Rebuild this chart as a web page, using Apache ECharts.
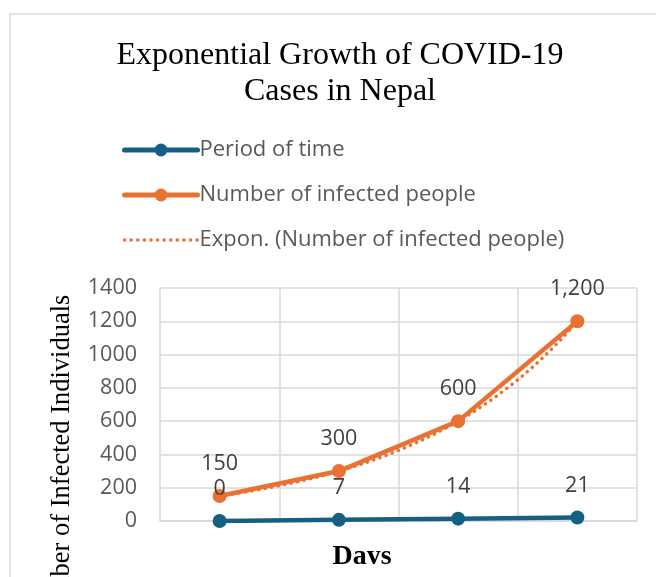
<!DOCTYPE html>
<html>
<head>
<meta charset="utf-8">
<script src="https://cdn.jsdelivr.net/npm/echarts@6/dist/echarts.min.js"></script>
<style>
  html, body { margin: 0; padding: 0; background: #fff; }
  #chart { width: 656px; height: 577px; }
</style>
</head>
<body>
<div id="chart"></div>
<script>
// Weekly snapshots: day count and cumulative infections
const categories = ['1', '2', '3', '4'];
const periodOfTime = [0, 7, 14, 21];
const infectedPeople = [150, 300, 600, 1200];
const yTicks = [0, 200, 400, 600, 800, 1000, 1200, 1400];

// Least-squares exponential fit y = a * e^(b x) over category positions 1..n
function expFit(ys) {
  const n = ys.length;
  let sx = 0, sy = 0, sxx = 0, sxy = 0;
  ys.forEach((v, i) => {
    const x = i + 1, ly = Math.log(v);
    sx += x; sy += ly; sxx += x * x; sxy += x * ly;
  });
  const b = (n * sxy - sx * sy) / (n * sxx - sx * sx);
  const a = Math.exp((sy - b * sx) / n);
  return { a, b };
}
const fit = expFit(infectedPeople);
const trend = [];
for (let x = 1; x <= infectedPeople.length + 1e-9; x += 0.05) {
  trend.push([x, fit.a * Math.exp(fit.b * x)]);
}

const ORANGE = '#E97132';
const BLUE = '#156082';
const SANS = '"Open Sans", "Liberation Sans", sans-serif';
const SERIF = '"Liberation Serif", "DejaVu Serif", serif';
const DOTS = [0.1, 6.5];

const chart = echarts.init(document.getElementById('chart'), null, { renderer: 'canvas' });
chart.setOption({
  animation: false,
  backgroundColor: '#fff',
  title: {
    text: 'Exponential Growth of COVID-19\nCases in Nepal',
    left: 335, top: 33, textAlign: 'center',
    textStyle: { fontFamily: SERIF, fontSize: 32, fontWeight: 'normal', color: '#000', lineHeight: 36 }
  },
  legend: {
    orient: 'vertical',
    left: 117, top: 134,
    itemWidth: 73, itemHeight: 16, itemGap: 23,
    textStyle: { fontFamily: SANS, fontSize: 22, color: '#595959', padding: [0, 0, 0, -3] },
    data: [
      { name: 'Period of time', lineStyle: { width: 5, color: BLUE, cap: 'round' }, itemStyle: { color: BLUE } },
      { name: 'Number of infected people', lineStyle: { width: 5, color: ORANGE, cap: 'round' }, itemStyle: { color: ORANGE } },
      { name: 'Expon. (Number of infected people)',
        lineStyle: { width: 3.5, color: ORANGE, type: DOTS, cap: 'round' }, itemStyle: { opacity: 0 } }
    ]
  },
  grid: { left: 160, right: 19, top: 288, bottom: 56, containLabel: false },
  xAxis: [
    {
      type: 'category', data: categories, boundaryGap: true,
      axisLine: { show: true, lineStyle: { color: '#d9d9d9', width: 1.5 } },
      axisTick: { show: false }, axisLabel: { show: false },
      splitLine: { show: true, lineStyle: { color: '#d9d9d9', width: 1.5 } }
    },
    {
      type: 'value', min: 0.5, max: 4.5, show: false
    }
  ],
  yAxis: {
    type: 'value', min: yTicks[0], max: yTicks[yTicks.length - 1], interval: 200,
    axisLine: { show: false }, axisTick: { show: false },
    axisLabel: { fontFamily: SANS, fontSize: 21.5, color: '#595959', margin: 23,
                 formatter: v => String(v) },
    splitLine: { lineStyle: { color: '#d9d9d9', width: 1.5 } }
  },
  graphic: [
    { type: 'rect', shape: { x: 10, y: 14, width: 700, height: 620 },
      style: { fill: 'none', stroke: '#d9d9d9', lineWidth: 1.5 }, z: 0 },
    { type: 'text', x: 62, y: 462, rotation: Math.PI / 2,
      style: { text: 'Number of Infected Individuals', fontFamily: SERIF, fontSize: 26.5,
               fill: '#000', align: 'center', verticalAlign: 'middle' } },
    { type: 'text', x: 362, y: 543,
      style: { text: 'Days', fontFamily: SERIF, fontSize: 28, fontWeight: 'bold',
               fill: '#000', align: 'center', verticalAlign: 'top' } },
    // white strip trimming the lower edge of the axis title
    { type: 'rect', shape: { x: 300, y: 564, width: 140, height: 20 },
      style: { fill: '#fff' }, z: 100 }
  ],
  series: [
    {
      name: 'Period of time', type: 'line', data: periodOfTime,
      color: BLUE, symbol: 'circle', symbolSize: 14,
      lineStyle: { width: 4.5, color: BLUE }, itemStyle: { color: BLUE },
      label: { show: true, position: 'top', distance: 14,
               fontFamily: SANS, fontSize: 21.5, color: '#404040' },
      z: 3
    },
    {
      name: 'Number of infected people', type: 'line', data: infectedPeople,
      color: ORANGE, symbol: 'circle', symbolSize: 14,
      lineStyle: { width: 4.5, color: ORANGE }, itemStyle: { color: ORANGE },
      label: { show: true, position: 'top', distance: 14,
               fontFamily: SANS, fontSize: 21.5, color: '#404040',
               formatter: p => p.value.toLocaleString('en-US') },
      z: 3
    },
    {
      name: 'Expon. (Number of infected people)', type: 'line', data: trend,
      xAxisIndex: 1, color: ORANGE, showSymbol: false, symbol: 'none',
      lineStyle: { width: 3.5, color: ORANGE, type: DOTS, cap: 'round' },
      silent: true, z: 4
    }
  ]
});
</script>
</body>
</html>
